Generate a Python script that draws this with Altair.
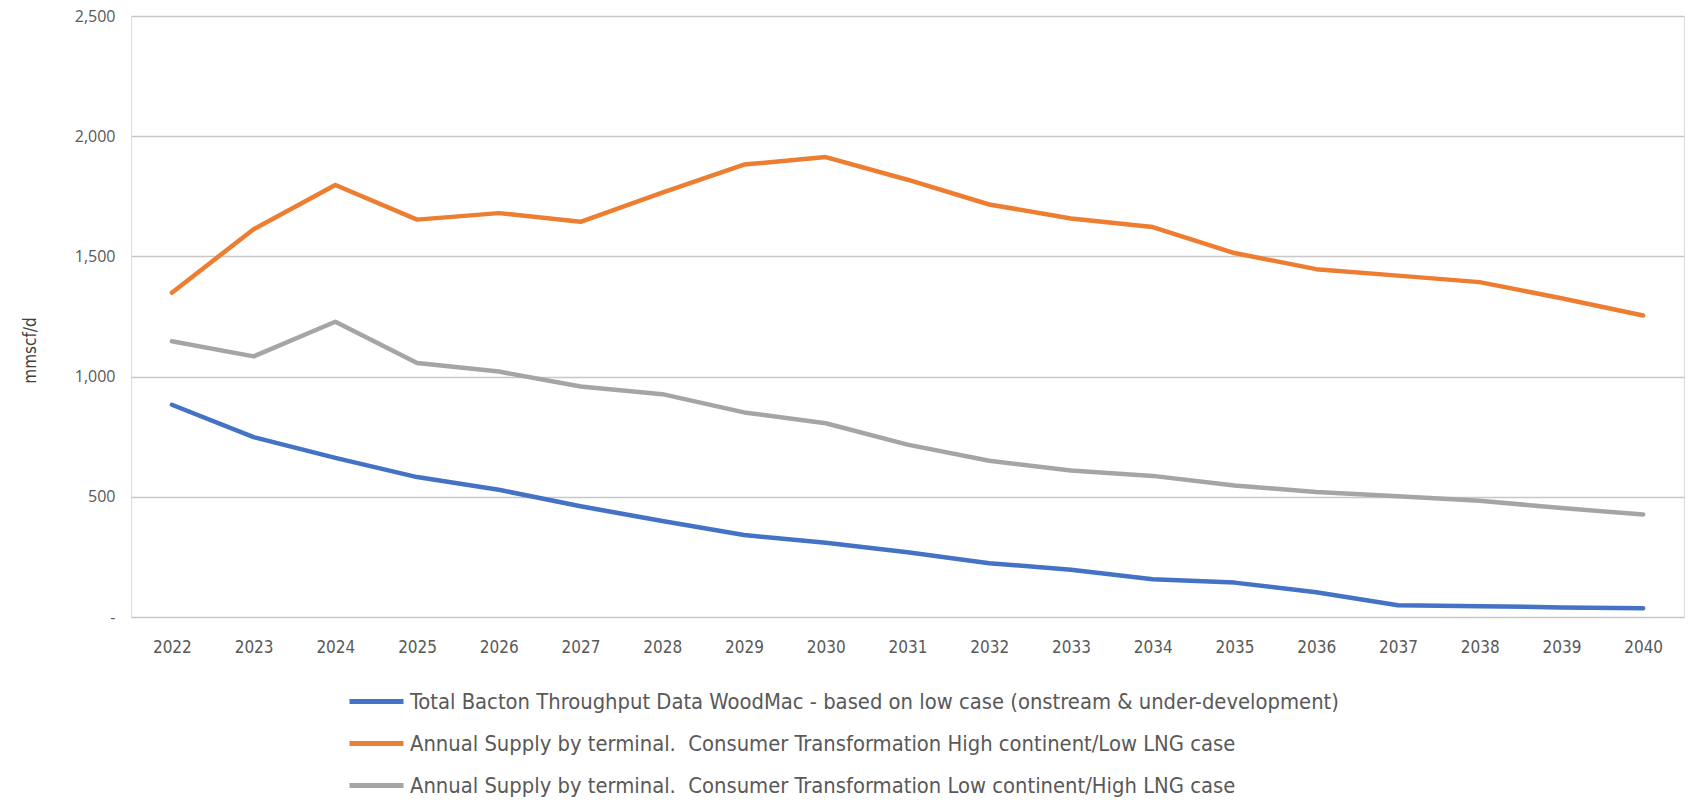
import altair as alt
import pandas as pd

years = [str(y) for y in range(2022, 2041)]
NB = "\u00a0"
series_names = [
    "Total Bacton Throughput Data WoodMac - based on low case (onstream & under-development)",
    "Annual Supply by terminal." + NB + " Consumer Transformation High continent/Low LNG case",
    "Annual Supply by terminal." + NB + " Consumer Transformation Low continent/High LNG case",
]
blue_vals = [883, 748, 662, 582, 529, 461, 399, 341, 309, 269, 224, 197, 157, 143, 103, 49, 45, 40, 36]
orange_vals = [1349, 1613, 1797, 1653, 1680, 1644, 1765, 1882, 1913, 1819, 1716, 1658, 1622, 1514, 1447, 1420, 1393, 1326, 1254]
grey_vals = [1147, 1084, 1228, 1057, 1021, 959, 927, 851, 806, 717, 650, 609, 587, 547, 520, 502, 484, 453, 426]
colors = ["#4472C4", "#ED7D31", "#A5A5A5"]

NARROW = "DejaVu Sans Condensed, Liberation Sans Narrow, Roboto, sans-serif"

rows = []
for name, vals in zip(series_names, [blue_vals, orange_vals, grey_vals]):
    for y, v in zip(years, vals):
        rows.append({"Year": y, "Value": v, "Series": name})
df = pd.DataFrame(rows)

chart = alt.Chart(df).mark_line(strokeWidth=4.5, strokeCap="round", strokeJoin="round").encode(
    x=alt.X("Year:N", sort=years,
            scale=alt.Scale(type="point", padding=0.5),
            axis=alt.Axis(title=None, labelAngle=0, ticks=False, domain=False, grid=False,
                          labelFont=NARROW, labelFontSize=17,
                          labelColor="#595959", labelPadding=22)),
    y=alt.Y("Value:Q", scale=alt.Scale(domain=[0, 2500], nice=False),
            axis=alt.Axis(title="mmscf/d", values=[0, 500, 1000, 1500, 2000, 2500],
                          labelExpr="datum.value == 0 ? '-' : format(datum.value, ',')",
                          ticks=False, domain=False, gridColor="#C8C8C8", gridWidth=1.5,
                          labelFont="Open Sans", labelFontSize=16, labelColor="#595959",
                          labelPadding=16,
                          titleFont=NARROW, titleFontSize=17,
                          titleFontWeight="normal", titleColor="#404040",
                          titleX=-101, titleY=334, titleBaseline="middle", titleAngle=270)),
    color=alt.Color("Series:N", sort=series_names,
                    scale=alt.Scale(domain=series_names, range=colors),
                    legend=alt.Legend(title=None, orient="none", legendX=216, legendY=656,
                                      direction="vertical", symbolType="stroke",
                                      symbolStrokeWidth=5, symbolSize=2916,
                                      labelFont=NARROW, labelFontSize=21.8,
                                      labelColor="#595959", labelOffset=4, rowPadding=-7,
                                      labelLimit=2000, padding=0)),
).properties(
    width=1553, height=601,
    padding={"left": 131, "top": 16, "right": 5, "bottom": 189},
    autosize=alt.AutoSizeParams(type="none"),
).configure_view(stroke=None).configure(background="white")

chart.save("out.html", embed_options={"renderer": "svg", "actions": False})
